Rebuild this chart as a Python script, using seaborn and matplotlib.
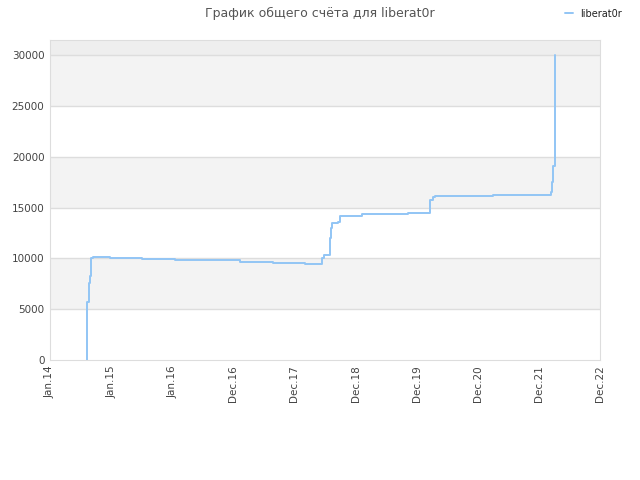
import pandas as pd
import numpy as np
import matplotlib
matplotlib.use("Agg")
import matplotlib.pyplot as plt
import seaborn as sns

# --- DATI ---
dates = [
    "2014-08-08", "2014-08-09", "2014-08-12", "2014-08-20", "2014-08-26",
    "2014-09-03", "2014-09-13", "2014-12-26", "2015-07-05", "2016-01-18",
    "2016-07-27", "2017-02-10", "2017-08-26", "2018-03-05", "2018-06-15",
    "2018-06-23", "2018-07-30", "2018-08-05", "2018-08-14", "2018-09-18",
    "2018-09-30", "2019-02-09", "2019-11-11", "2020-03-21", "2020-04-08",
    "2020-04-20", "2021-04-02", "2022-03-15", "2022-03-21", "2022-03-24",
    "2022-03-27", "2022-04-05", "2022-04-06",
]
score = [
    0, 560, 5740, 7540, 8260,
    10000, 10160, 10060, 9970, 9880,
    9800, 9680, 9570, 9450, 10000,
    10330, 12000, 13000, 13470, 13600,
    14200, 14330, 14430, 15740, 16030,
    16100, 16200, 16550, 17540, 18520,
    19080, 19280, 30000,
]
tick_dates = ["2014-01-01", "2015-01-01", "2016-01-01", "2016-12-31", "2017-12-31",
              "2018-12-31", "2019-12-31", "2020-12-30", "2021-12-30", "2022-12-30"]
tick_labels = ["Jan.14", "Jan.15", "Jan.16", "Dec.16", "Dec.17",
               "Dec.18", "Dec.19", "Dec.20", "Dec.21", "Dec.22"]
y_ticks = [0, 5000, 10000, 15000, 20000, 25000, 30000]
player = "liberat0r"

df = pd.DataFrame({"date": pd.to_datetime(dates), "score": score})

sns.set_style("white")
plt.rcParams['font.family'] = ['DejaVu Sans']

fig = plt.figure(figsize=(6.4, 4.8), dpi=100)
ax = fig.add_axes([50 / 640, 120 / 480, 550 / 640, 320 / 480])

# bande orizzontali alternate
for lo in (5000, 15000, 25000):
    ax.axhspan(lo, lo + 5000, color="#f3f3f3", zorder=0, lw=0)
ax.axhspan(30000, 31500, color="#eeeeee", zorder=0, lw=0)
for yv in y_ticks[1:]:
    ax.axhline(yv, color="#dddddd", lw=1, zorder=1)

sns.lineplot(data=df, x="date", y="score", ax=ax, drawstyle="steps-post",
             color="#92c5f5", lw=1.4, label=player, legend=False, zorder=3)

ax.set_xlim(pd.Timestamp(tick_dates[0]), pd.Timestamp(tick_dates[-1]))
ax.set_ylim(0, 31500)
ax.set_xticks(pd.to_datetime(tick_dates))
ax.set_xticklabels(tick_labels, rotation=90)
ax.set_yticks(y_ticks)
ax.set_yticklabels([str(v) for v in y_ticks])
ax.tick_params(labelsize=7.5, colors="#444444", length=0, pad=4)
ax.set_xlabel("")
ax.set_ylabel("")
for s in ax.spines.values():
    s.set_color("#dddddd")

fig.text(0.5, 0.986, "График общего счёта для " + player, ha="center", va="top",
         fontsize=9, color="#555555")
h, l = ax.get_legend_handles_labels()
fig.legend(h, l, loc="upper right", bbox_to_anchor=(0.986, 1.0), frameon=False,
           fontsize=7, handlelength=0.8, handletextpad=0.8, labelcolor="#222222")

plt.savefig("out.png", dpi=100)
plt.close()
